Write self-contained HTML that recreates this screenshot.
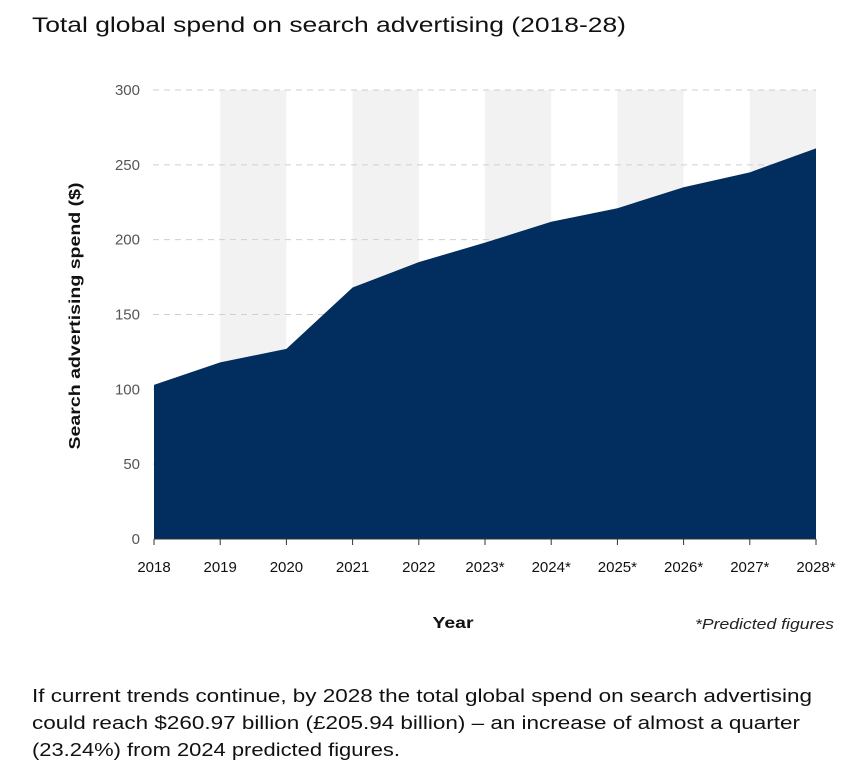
<!DOCTYPE html>
<html><head><meta charset="utf-8"><style>
body{margin:0;background:#fff;width:863px;height:771px;overflow:hidden;font-family:"Liberation Sans",sans-serif;}
</style></head><body>
<svg width="863" height="771">
<text x="32" y="32" font-size="21" fill="#111" textLength="594" lengthAdjust="spacingAndGlyphs">Total global spend on search advertising (2018-28)</text>
<g id="bands"></g>
<g id="grid"></g>
<path id="area" fill="#022e5f"></path>
<g id="axes"></g>
<text transform="translate(80,316) rotate(-90)" text-anchor="middle" font-size="16" font-weight="bold" fill="#111" textLength="267" lengthAdjust="spacingAndGlyphs">Search advertising spend ($)</text>
<text x="453" y="628" text-anchor="middle" font-size="16" font-weight="bold" fill="#111" textLength="41" lengthAdjust="spacingAndGlyphs">Year</text>
<text x="834" y="629" text-anchor="end" font-size="15" font-style="italic" fill="#222" textLength="139" lengthAdjust="spacingAndGlyphs">*Predicted figures</text>
<text font-size="18.5" fill="#111">
<tspan x="32" y="702" textLength="780" lengthAdjust="spacingAndGlyphs">If current trends continue, by 2028 the total global spend on search advertising</tspan>
<tspan x="32" y="729" textLength="768" lengthAdjust="spacingAndGlyphs">could reach $260.97 billion (£205.94 billion) – an increase of almost a quarter</tspan>
<tspan x="32" y="756" textLength="368" lengthAdjust="spacingAndGlyphs">(23.24%) from 2024 predicted figures.</tspan>
</text>
</svg>
<script>
const categories=["2018","2019","2020","2021","2022","2023*","2024*","2025*","2026*","2027*","2028*"];
const spend=[103,118,127,168,185,198,212,221,235,245,261];
const yTicks=[0,50,100,150,200,250,300];
const NS="http://www.w3.org/2000/svg";
const x0=154,x1=816,y0=539,y1=90,ymax=300;
const xs=i=>x0+i*(x1-x0)/(categories.length-1);
const ys=v=>y0-v*(y0-y1)/ymax;
function mk(t,a,p){const e=document.createElementNS(NS,t);for(const k in a)e.setAttribute(k,a[k]);p.appendChild(e);return e;}
const bands=document.getElementById('bands'),grid=document.getElementById('grid'),axes=document.getElementById('axes');
for(let i=1;i<categories.length-1;i+=2){
  const r=mk('rect',{x:xs(i),y:y1,width:xs(i+1)-xs(i),height:y0-y1,fill:'#f2f2f2'},bands);
  
  
}
yTicks.forEach(v=>{
  if(v>0){const l=mk('line',{x1:153,x2:x1,y1:ys(v),y2:ys(v),stroke:'#cfcfcf','stroke-dasharray':'6 5'},grid);
  
  }
  const t=mk('text',{x:140,y:ys(v)+5,'text-anchor':'end','font-size':'15',fill:'#555'},axes);
  t.textContent=v;
  
  
});
let d='M'+xs(0)+','+y0;
spend.forEach((v,i)=>{d+=' L'+xs(i)+','+ys(v);});
d+=' L'+xs(spend.length-1)+','+y0+' Z';
document.getElementById('area').setAttribute('d',d);
const ax=mk('line',{x1:x0,x2:x1,y1:y0,y2:y0,stroke:'#333'},axes);


categories.forEach((c,i)=>{
  mk('line',{x1:xs(i),x2:xs(i),y1:y0,y2:y0+6,stroke:'#333'},axes);
  const t=mk('text',{x:xs(i),y:572,'text-anchor':'middle','font-size':'15',fill:'#111'},axes);
  t.textContent=c;
  
  
});
</script>
</body></html>
